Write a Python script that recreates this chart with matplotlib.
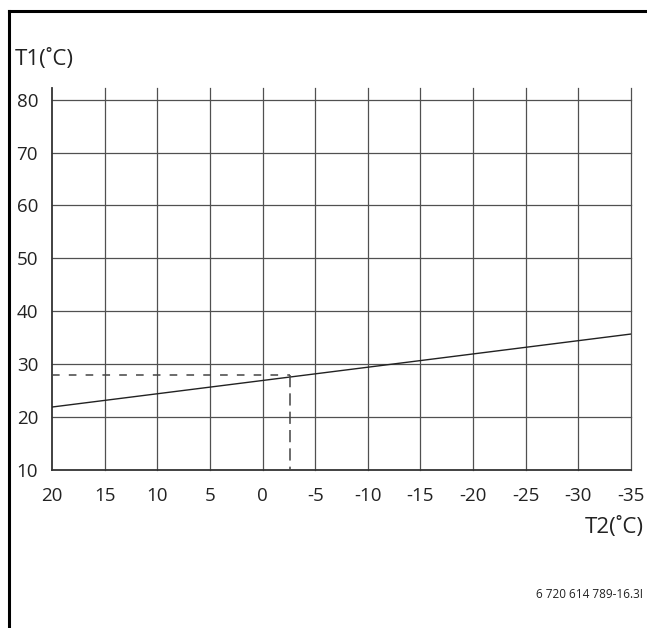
import matplotlib.pyplot as plt
from matplotlib.lines import Line2D

plt.rcParams['font.family'] = ['Open Sans', 'DejaVu Sans']

# data
t2_ticks = [20, 15, 10, 5, 0, -5, -10, -15, -20, -25, -30, -35]
t1_ticks = [10, 20, 30, 40, 50, 60, 70, 80]
curve_t2 = [20, -35]
curve_t1 = [21.9, 35.7]
example_t2 = -2.6
example_t1 = 27.9

fig = plt.figure(figsize=(6.47, 6.28), dpi=100)
ax = fig.add_axes([52 / 647, 1 - 470 / 628, (631 - 52) / 647, (470 - 88) / 628])

ax.set_xlim(20, -35)
ax.set_ylim(10, 82.2)

# grid
for x in t2_ticks[1:]:
    ax.axvline(x, color='#505050', lw=0.9, zorder=1, clip_on=False)
for y in t1_ticks[1:]:
    ax.axhline(y, color='#505050', lw=0.9, zorder=1, clip_on=False)

ax.plot(curve_t2, curve_t1, color='#222222', lw=1.0, zorder=3)
ax.plot([20, example_t2], [example_t1, example_t1], color='#444444', lw=1.1,
        ls=(0, (5, 6)), zorder=3)
ax.plot([example_t2, example_t2], [example_t1, 10], color='#444444', lw=1.1,
        ls=(0, (8, 4)), zorder=3)

for s in ['top', 'right']:
    ax.spines[s].set_visible(False)
for s in ['left', 'bottom']:
    ax.spines[s].set_color('#333333')
    ax.spines[s].set_linewidth(1.3)

ax.set_xticks(t2_ticks)
ax.set_xticklabels([str(v) for v in t2_ticks])
ax.set_yticks(t1_ticks)
ax.tick_params(length=0, labelsize=13.5, colors='#222222')
ax.tick_params(axis='y', pad=10)
ax.tick_params(axis='x', pad=12)

fig.text(15 / 647, 1 - 60 / 628, 'T1(˚C)', fontsize=16, color='#222222',
         ha='left', va='center')
fig.text(644 / 647, 1 - 528 / 628, 'T2(˚C)', fontsize=16, color='#222222',
         ha='right', va='center')
fig.text(643 / 647, 1 - 594 / 628, '6 720 614 789-16.3I', fontsize=8.5,
         color='#222222', ha='right', va='center')

# frame lines
fig.add_artist(Line2D([9 / 647, 9 / 647], [0, 1 - 11 / 628], color='black', lw=2.2))
fig.add_artist(Line2D([9 / 647, 1], [1 - 11 / 628, 1 - 11 / 628], color='black', lw=2.2))

fig.savefig('out.png', dpi=100)
